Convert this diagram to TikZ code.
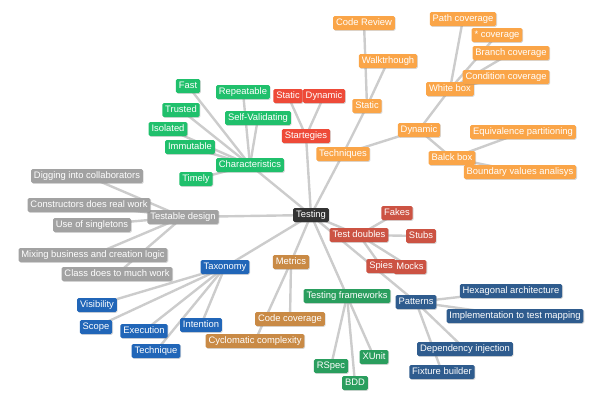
\documentclass[tikz,border=0pt]{standalone}
\usepackage{fontspec}
\setmainfont{Liberation Sans}
\usetikzlibrary{shadows,backgrounds}
\definecolor{corange}{HTML}{FAA548}
\definecolor{cred}{HTML}{EE4A38}
\definecolor{cgreen}{HTML}{20C06C}
\definecolor{cgray}{HTML}{A2A2A2}
\definecolor{cblue}{HTML}{2166B8}
\definecolor{ctan}{HTML}{C98A45}
\definecolor{cfgreen}{HTML}{2A9E5E}
\definecolor{cdred}{HTML}{CC5343}
\definecolor{cnavy}{HTML}{2F5C8E}
\definecolor{cdark}{HTML}{333333}
\definecolor{cline}{HTML}{CCCCCC}
\tikzset{
  mm/.style={rounded corners=1.5pt, text=white, font=\fontsize{9.4}{10}\selectfont,
    inner xsep=2.9pt, inner ysep=2.4pt, text height=7.2pt, text depth=2pt,
    drop shadow={shadow xshift=0.8pt, shadow yshift=-0.8pt, opacity=0.3}},
  orng/.style={mm, fill=corange},
  redb/.style={mm, fill=cred},
  grnb/.style={mm, fill=cgreen},
  gryb/.style={mm, fill=cgray},
  blub/.style={mm, fill=cblue},
  tanb/.style={mm, fill=ctan},
  fgrb/.style={mm, fill=cfgreen},
  drdb/.style={mm, fill=cdred},
  navb/.style={mm, fill=cnavy},
  dkb/.style={mm, fill=cdark},
  link/.style={draw=cline, line width=2.4pt}
}
\begin{document}
\begin{tikzpicture}[x=1pt,y=-1pt]
\useasboundingbox (0,0) rectangle (601,402);
% root
\node[dkb] (testing) at (311,215) {Testing};
% techniques
\node[orng] (tech) at (343,154) {Techniques};
\node[orng] (tstatic) at (367,106) {Static};
\node[orng] (walk) at (388,61) {Walktrhough};
\node[orng] (review) at (364,23) {Code Review};
\node[orng] (tdyn) at (419,130) {Dynamic};
\node[orng] (white) at (450,89) {White box};
\node[orng] (path) at (463,19) {Path coverage};
\node[orng] (star) at (497,35) {* coverage};
\node[orng] (branch) at (511,53) {Branch coverage};
\node[orng] (cond) at (506,77) {Condition coverage};
\node[orng] (black) at (452,158) {Balck box};
\node[orng] (equiv) at (523,132) {Equivalence partitioning};
\node[orng] (bound) at (520,172) {Boundary values analisys};
% strategies
\node[redb] (strat) at (306,136) {Startegies};
\node[redb] (sstatic) at (288,96) {Static};
\node[redb] (sdyn) at (324,96) {Dynamic};
% characteristics
\node[grnb] (chars) at (250,165) {Characteristics};
\node[grnb] (selfv) at (258,118) {Self-Validating};
\node[grnb] (repeat) at (243,92) {Repeatable};
\node[grnb] (fast) at (188,86) {Fast};
\node[grnb] (trusted) at (181,110) {Trusted};
\node[grnb] (isolated) at (168,129) {Isolated};
\node[grnb] (immut) at (190,147) {Immutable};
\node[grnb] (timely) at (196,179) {Timely};
% testable design
\node[gryb] (tdesign) at (183,217) {Testable design};
\node[gryb] (dig) at (87,176) {Digging into collaborators};
\node[gryb] (ctor) at (89,205) {Constructors does real work};
\node[gryb] (single) at (92,225) {Use of singletons};
\node[gryb] (mixing) at (93,255) {Mixing business and creation logic};
\node[gryb] (classd) at (117,274) {Class does to much work};
% taxonomy
\node[blub] (tax) at (225,267) {Taxonomy};
\node[blub] (vis) at (97,305) {Visibility};
\node[blub] (scope) at (96,327) {Scope};
\node[blub] (exec) at (144,331) {Execution};
\node[blub] (intent) at (201,325) {Intention};
\node[blub] (techq) at (156,351) {Technique};
% metrics
\node[tanb] (metrics) at (291,262) {Metrics};
\node[tanb] (ccov) at (290,319) {Code coverage};
\node[tanb] (cyclo) at (255,341) {Cyclomatic complexity};
% frameworks
\node[fgrb] (frame) at (347,296) {Testing frameworks};
\node[fgrb] (rspec) at (331,366) {RSpec};
\node[fgrb] (bdd) at (355,383) {BDD};
\node[fgrb] (xunit) at (374,357) {XUnit};
% test doubles
\node[drdb] (doubles) at (359,235) {Test doubles};
\node[drdb] (fakes) at (397,213) {Fakes};
\node[drdb] (stubs) at (421,236) {Stubs};
\node[drdb] (spies) at (381,266) {Spies};
\node[drdb] (mocks) at (410,267) {Mocks};
% patterns
\node[navb] (patterns) at (416,302) {Patterns};
\node[navb] (hexa) at (511,291) {Hexagonal architecture};
\node[navb] (impl) at (515,316) {Implementation to test mapping};
\node[navb] (dep) at (465,349) {Dependency injection};
\node[navb] (fixture) at (442,372) {Fixture builder};
\begin{pgfonlayer}{background}
\foreach \a/\b in {testing/tech, tech/tstatic, tstatic/walk, tstatic/review, tech/tdyn,
  tdyn/white, white/path, white/star, white/branch, white/cond, tdyn/black, black/equiv, black/bound,
  testing/strat, strat/sstatic, strat/sdyn,
  testing/chars, chars/selfv, chars/repeat, chars/fast, chars/trusted, chars/isolated, chars/immut, chars/timely,
  testing/tdesign, tdesign/dig, tdesign/ctor, tdesign/single, tdesign/mixing, tdesign/classd,
  testing/tax, tax/vis, tax/scope, tax/exec, tax/intent, tax/techq,
  testing/metrics, metrics/ccov, metrics/cyclo,
  testing/frame, frame/rspec, frame/bdd, frame/xunit,
  testing/doubles, doubles/fakes, doubles/stubs, doubles/spies, doubles/mocks,
  testing/patterns, patterns/hexa, patterns/impl, patterns/dep, patterns/fixture}
  \draw[link] (\a.center) -- (\b.center);
\end{pgfonlayer}
\end{tikzpicture}
\end{document}
